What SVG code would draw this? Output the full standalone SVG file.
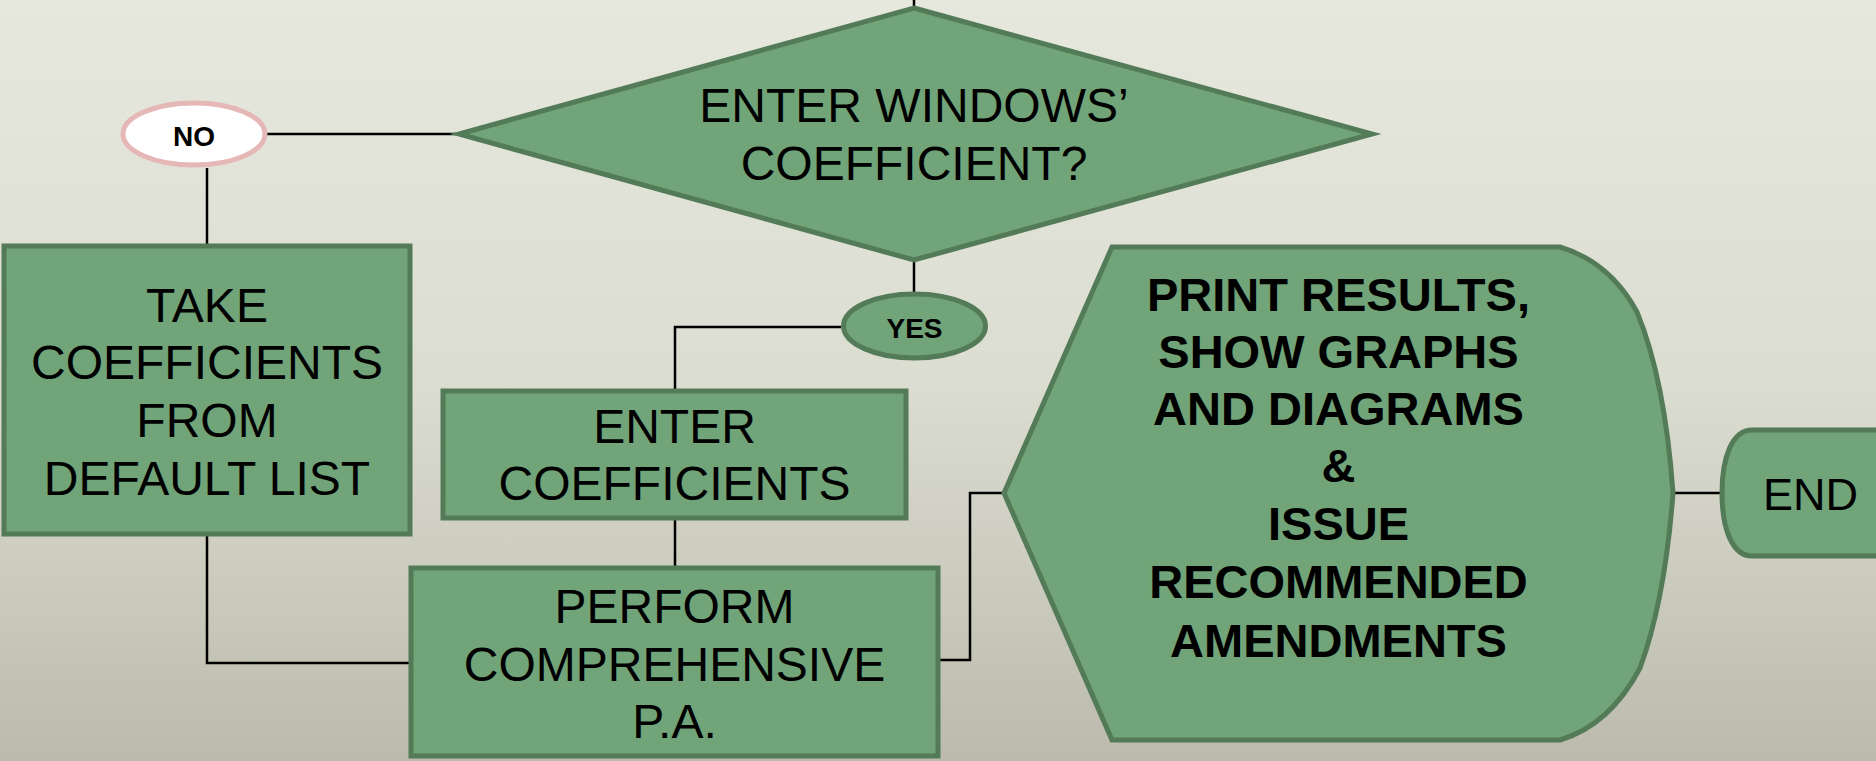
<svg xmlns="http://www.w3.org/2000/svg" width="1876" height="761" viewBox="0 0 1876 761">
<defs>
<linearGradient id="bg" x1="0" y1="0" x2="0" y2="1">
<stop offset="0" stop-color="#e6e8de"/>
<stop offset="0.5" stop-color="#dcddd1"/>
<stop offset="1" stop-color="#bbbaad"/>
</linearGradient>
<style>
.shape{fill:#71a479;stroke:#537b57;stroke-width:5}
.conn{fill:none;stroke:#000;stroke-width:2.5}
.t{font-family:"Liberation Sans",Arial,sans-serif;fill:#000;text-anchor:middle;font-size:48px}
.b{font-weight:bold}
</style>
</defs>
<rect x="0" y="0" width="1876" height="761" fill="url(#bg)"/>
<g id="connectors">
<path class="conn" d="M914,0 V8"/>
<path class="conn" d="M267,134 H456"/>
<path class="conn" d="M207,168 V244"/>
<path class="conn" d="M914,260 V292"/>
<path class="conn" d="M841,327 H675 V389"/>
<path class="conn" d="M675,520 V566"/>
<path class="conn" d="M207,536 V663 H410"/>
<path class="conn" d="M939,660 H970 V493 H1002"/>
<path class="conn" d="M1673,493 H1721"/>
</g>
<g id="decision">
<polygon class="shape" points="914,8 1372,134 914,260 459,134"/>
<text class="t" x="914" y="122">ENTER WINDOWS’</text>
<text class="t" x="914" y="180">COEFFICIENT?</text>
</g>
<g id="no">
<ellipse cx="194" cy="134" rx="71" ry="31" fill="#fff" stroke="#e6b7b7" stroke-width="5"/>
<text class="t b" x="194" y="146" style="font-size:28px">NO</text>
</g>
<g id="yes">
<ellipse cx="914.5" cy="326" rx="71" ry="32" class="shape"/>
<text class="t b" x="914.5" y="338" style="font-size:28px">YES</text>
</g>
<g id="take">
<rect class="shape" x="4" y="246" width="406" height="288"/>
<text class="t" x="207" y="322">TAKE</text>
<text class="t" x="207" y="379">COEFFICIENTS</text>
<text class="t" x="207" y="437">FROM</text>
<text class="t" x="207" y="495">DEFAULT LIST</text>
</g>
<g id="enter">
<rect class="shape" x="443" y="391" width="463" height="127"/>
<text class="t" x="674.5" y="443">ENTER</text>
<text class="t" x="674.5" y="500">COEFFICIENTS</text>
</g>
<g id="perform">
<rect class="shape" x="411" y="568" width="527" height="188"/>
<text class="t" x="674.5" y="623">PERFORM</text>
<text class="t" x="674.5" y="681">COMPREHENSIVE</text>
<text class="t" x="674.5" y="738">P.A.</text>
</g>
<g id="print">
<path class="shape" d="M1112,247 L1560,247 Q1610,262 1637,312 Q1665,380 1673,493 Q1665,600 1640,668 Q1610,725 1560,740 L1112,740 L1004,493 Z"/>
<g class="t b" style="font-size:47px">
<text x="1338.5" y="311">PRINT RESULTS,</text>
<text x="1338.5" y="368">SHOW GRAPHS</text>
<text x="1338.5" y="425">AND DIAGRAMS</text>
<text x="1338.5" y="482">&amp;</text>
<text x="1338.5" y="540">ISSUE</text>
<text x="1338.5" y="598">RECOMMENDED</text>
<text x="1338.5" y="657">AMENDMENTS</text>
</g>
</g>
<g id="end">
<path class="shape" d="M1752,430 L1882,430 L1882,556 L1752,556 C1732,556 1722,528 1722,493 C1722,458 1732,430 1752,430 Z"/>
<text class="t" x="1763" y="510" style="font-size:45px;text-anchor:start">END</text>
</g>
</svg>
